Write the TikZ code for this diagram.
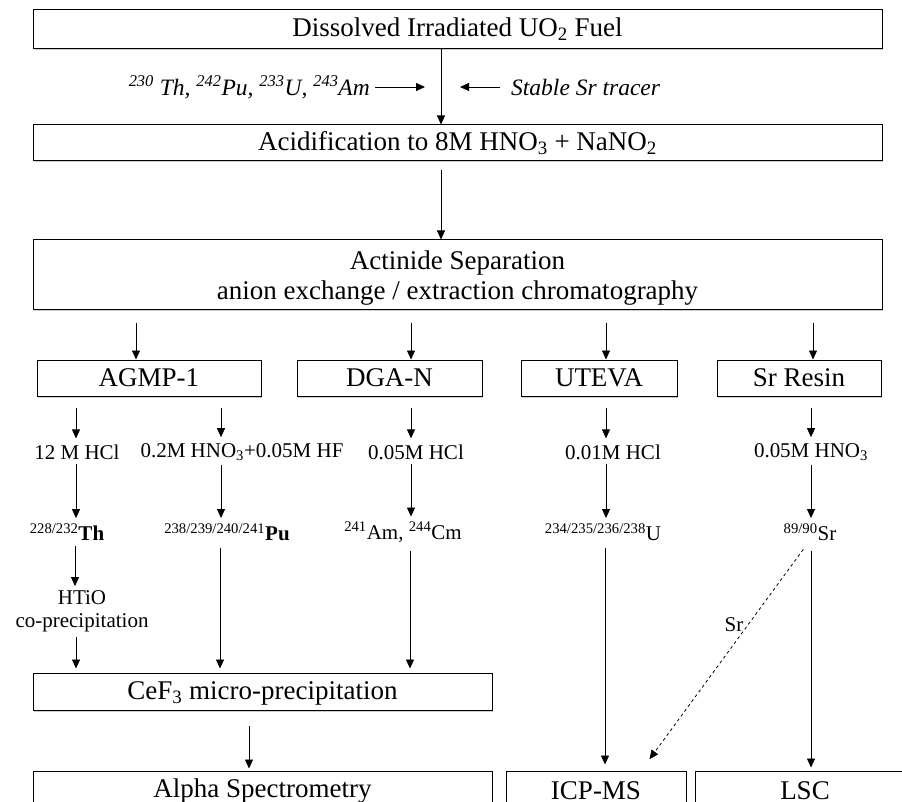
\documentclass[tikz,border=0pt]{standalone}
\usepackage{fontspec}
\setmainfont{Liberation Serif}
\usetikzlibrary{arrows.meta,shadows,calc}
\begin{document}
\begin{tikzpicture}[x=1pt,y=-1pt,
  box/.style={draw, line width=1pt, fill=white, inner sep=0pt,
    drop shadow={shadow xshift=1.2pt, shadow yshift=-1.5pt, fill=black!40}},
  arr/.style={-{Triangle[length=9pt,width=8pt]}, line width=0.8pt},
  big/.style={font=\fontsize{27}{30}\selectfont},
  lab/.style={font=\fontsize{21}{23}\selectfont, inner sep=2pt},
  itl/.style={font=\fontsize{23.5}{25}\selectfont\itshape, inner sep=2pt}]
\useasboundingbox (0,0) rectangle (902,802);
\clip (0,0) rectangle (902,802);
% column x coordinates
\coordinate (m) at (441,0);
\coordinate (k1) at (136,0);
\coordinate (k2) at (411,0);
\coordinate (k3) at (606,0);
\coordinate (k4) at (813,0);
\coordinate (c1) at (76,0);
\coordinate (c2) at (221,0);
\coordinate (c3) at (411,0);
\coordinate (c4) at (606,0);
\coordinate (c5) at (811,0);
% main boxes
\node[box, big, minimum width=849pt, minimum height=39pt] (top) at (457.5,29.5) {Dissolved Irradiated UO\textsubscript{2} Fuel};
\node[box, big, minimum width=849pt, minimum height=36pt] (acid) at (457.5,143) {Acidification to 8M HNO\textsubscript{3} + NaNO\textsubscript{2}};
\node[box, minimum width=849pt, minimum height=69pt] (sep) at (457.5,274.5) {};
\node[big, align=center, inner sep=0pt] (septext) at (457.5,278) {Actinide Separation\\anion exchange / extraction chromatography};
% tracer labels
\node[itl, anchor=east] (tl) at (372,87) {\textsuperscript{230} Th, \textsuperscript{242}Pu, \textsuperscript{233}U, \textsuperscript{243}Am};
\node[itl, anchor=west] (tr) at (509,87) {Stable Sr tracer};
\coordinate (la) at (425,87);
\coordinate (ra) at (460,87);
\draw[arr, shorten <=3pt] (tl.east) -- (la);
\draw[arr, shorten <=9pt] (tr.west) -- (ra);
\draw[arr] (top.south -| m) -- (acid.north -| m);
\draw[arr, shorten <=9pt] (acid.south -| m) -- (sep.north -| m);
% resin boxes
\node[box, big, minimum width=224pt, minimum height=36pt] (agmp) at (149,378) {AGMP-1};
\node[box, big, minimum width=185pt, minimum height=36pt] (dga) at (389.5,378) {DGA-N};
\node[box, big, minimum width=156pt, minimum height=36pt] (ute) at (599,378) {UTEVA};
\node[box, big, minimum width=164pt, minimum height=36pt] (srr) at (799,378) {Sr Resin};
\draw[arr, shorten <=13pt] (sep.south -| k1) -- (agmp.north -| k1);
\draw[arr, shorten <=13pt] (sep.south -| k2) -- (dga.north -| k2);
\draw[arr, shorten <=13pt] (sep.south -| k3) -- (ute.north -| k3);
\draw[arr, shorten <=13pt] (sep.south -| k4) -- (srr.north -| k4);
% eluents
\node[lab] (e1) at (77,452) {12 M HCl};
\node[lab] (e2) at (242,452) {0.2M HNO\textsubscript{3}+0.05M HF};
\node[lab] (e3) at (416,452) {0.05M HCl};
\node[lab] (e4) at (613,452) {0.01M HCl};
\node[lab] (e5) at (811,452) {0.05M HNO\textsubscript{3}};
\draw[arr, shorten <=11pt, shorten >=4pt] (agmp.south -| c1) -- (e1.north -| c1);
\draw[arr, shorten <=11pt, shorten >=4pt] (agmp.south -| c2) -- (e2.north -| c2);
\draw[arr, shorten <=11pt, shorten >=4pt] (dga.south -| c3) -- (e3.north -| c3);
\draw[arr, shorten <=11pt, shorten >=4pt] (ute.south -| c4) -- (e4.north -| c4);
\draw[arr, shorten <=11pt, shorten >=4pt] (srr.south -| c5) -- (e5.north -| c5);
% nuclides
\node[lab] (th) at (67,532) {\textsuperscript{228/232}\textbf{Th}};
\node[lab] (pu) at (227,532) {\textsuperscript{238/239/240/241}\textbf{Pu}};
\node[lab] (am) at (403,532) {\textsuperscript{241}Am, \textsuperscript{244}Cm};
\node[lab] (u) at (603,532) {\textsuperscript{234/235/236/238}U};
\node[lab] (sr) at (810,532) {\textsuperscript{89/90}Sr};
\draw[arr, shorten <=2pt, shorten >=3pt] (e1.south -| c1) -- (th.north -| c1);
\draw[arr, shorten <=2pt, shorten >=3pt] (e2.south -| c2) -- (pu.north -| c2);
\draw[arr, shorten <=2pt, shorten >=3pt] (e3.south -| c3) -- (am.north -| c3);
\draw[arr, shorten <=2pt, shorten >=3pt] (e4.south -| c4) -- (u.north -| c4);
\draw[arr, shorten <=2pt, shorten >=3pt] (e5.south -| c5) -- (sr.north -| c5);
% Th co-precipitation
\node[lab, align=center] (htio) at (82,611) {HTiO\\co-precipitation};
% CeF3
\node[box, minimum width=459pt, minimum height=37pt] (cef) at (262.5,691.5) {};
\node[big, inner sep=0pt] (ceftext) at (262.5,693) {CeF\textsubscript{3} micro-precipitation};
\coordinate (t1) at (75,0);
\coordinate (p1) at (220,0);
\coordinate (a1) at (410,0);
\coordinate (b1) at (249,0);
\draw[arr, shorten <=3pt, shorten >=2pt] (th.south -| t1) -- (htio.north -| t1);
\draw[arr, shorten <=3pt, shorten >=4pt] (htio.south -| c1) -- (cef.north -| c1);
\draw[arr, shorten <=5pt, shorten >=4pt] (pu.south -| p1) -- (cef.north -| p1);
\draw[arr, shorten <=7pt, shorten >=4pt] (am.south -| a1) -- (cef.north -| a1);
% detection
\node[box, big, minimum width=459pt, minimum height=40pt] (alpha) at (262.5,791) {Alpha Spectrometry};
\node[box, big, minimum width=180pt, minimum height=40pt] (icp) at (596,791) {ICP-MS};
\node[box, big, minimum width=220pt, minimum height=40pt] (lsc) at (805,791) {LSC};
\draw[arr, shorten <=15pt, shorten >=2pt] (cef.south -| b1) -- (alpha.north -| b1);
\coordinate (u1) at (605,0);
\draw[arr, shorten <=5pt, shorten >=6pt] (u.south -| u1) -- (icp.north -| u1);
\draw[arr, shorten <=8pt, shorten >=3pt] (sr.south -| c5) -- (lsc.north -| c5);
\coordinate (d1) at (808,0);
\draw[arr, dashed, shorten <=8pt, shorten >=14pt] (sr.south -| d1) -- ($(icp.north west)!0.75!(icp.north east)$);
\node[lab] (srlab) at (734,625) {Sr};
\end{tikzpicture}
\end{document}
